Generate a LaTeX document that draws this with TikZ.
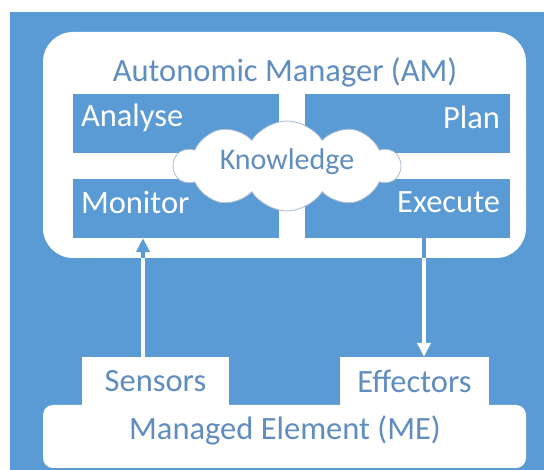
\documentclass[tikz,border=0pt]{standalone}
\usepackage{fontspec}
\setmainfont{Carlito}
\usetikzlibrary{shapes.symbols,arrows.meta,calc}
\definecolor{bgblue}{HTML}{5B9BD5}
\definecolor{txtblue}{HTML}{5F8DC0}
\definecolor{cloudline}{HTML}{A9BCD3}
\tikzset{
  panel/.style={fill=white, draw=none, rounded corners=30pt, inner sep=0pt},
  phase/.style={fill=bgblue, draw=none, inner sep=0pt, minimum width=206pt, minimum height=59pt},
  whitebox/.style={fill=white, draw=none, inner sep=0pt, minimum height=48pt},
  phaselbl/.style={text=white, inner sep=0pt, font=\fontsize{32.5}{38}\selectfont},
  bluelbl/.style={text=txtblue, inner sep=0pt, font=\fontsize{32.5}{38}\selectfont},
  kcloud/.style={cloud, cloud puffs=10, cloud puff arc=115, cloud ignores aspect,
    fill=white, draw=cloudline, line width=0.8pt, minimum width=226pt, minimum height=90pt,
    text=txtblue, font=\fontsize{30}{36}\selectfont, inner sep=0pt},
  arrbase/.style={line width=4pt, -{Triangle[width=13pt,length=14pt]}},
  bluearrow/.style={arrbase, draw=bgblue, fill=bgblue},
  wharrow/.style={arrbase, draw=white, fill=white}
}
\begin{document}
\begin{tikzpicture}[x=1pt,y=-1pt]
\useasboundingbox (0,0) rectangle (544,470);
\fill[bgblue] (10,12) rectangle (544,470);
% Autonomic manager panel
\node[panel, minimum width=483pt, minimum height=226pt] (am) at (284.5,145) {};
\node[bluelbl] (amtitle) at (285,72) {Autonomic Manager (AM)};
% phases
\node[phase] (analyse) at (176,123.5) {};
\node[phase, minimum width=205pt] (plan) at (407.5,123.5) {};
\node[phase] (monitor) at (176,208.5) {};
\node[phase, minimum width=205pt] (execute) at (407.5,208.5) {};
\node[phaselbl, anchor=west] (analyselbl) at ($(analyse.west)+(8,-6)$) {Analyse};
\node[phaselbl, anchor=east] (planlbl) at ($(plan.east)+(-10,-6)$) {Plan};
\node[phaselbl, anchor=west] (monitorlbl) at ($(monitor.west)+(8,-6)$) {Monitor};
\node[phaselbl, anchor=east] (executelbl) at ($(execute.east)+(-10,-6)$) {Execute};
% knowledge cloud
\node[kcloud] (knowledge) at (287,166) {\raisebox{13pt}{Knowledge}};
% managed element
\node[panel, rounded corners=10pt, minimum width=483pt, minimum height=63pt] (me) at (284.5,436.5) {};
\node[bluelbl] (melbl) at (285,430) {Managed Element (ME)};
\node[whitebox, minimum width=147pt, bluelbl] (sensors) at (155.5,381) {Sensors};
\node[whitebox, minimum width=149pt, bluelbl] (effectors) at (414.5,381) {Effectors};
% arrows: blue where they cross the white panel, white below it
\coordinate (upx) at (143,0);
\coordinate (downx) at (424,0);
\draw[bluearrow] (sensors.north -| upx) -- (monitor.south -| upx);
\draw[bluearrow, line width=3.5pt] (execute.south -| downx) -- (effectors.north -| downx);
\begin{scope}
  \clip (am.south west) rectangle (544,470);
  \draw[wharrow] (sensors.north -| upx) -- (monitor.south -| upx);
  \draw[wharrow] (execute.south -| downx) -- (effectors.north -| downx);
\end{scope}
\end{tikzpicture}
\end{document}
